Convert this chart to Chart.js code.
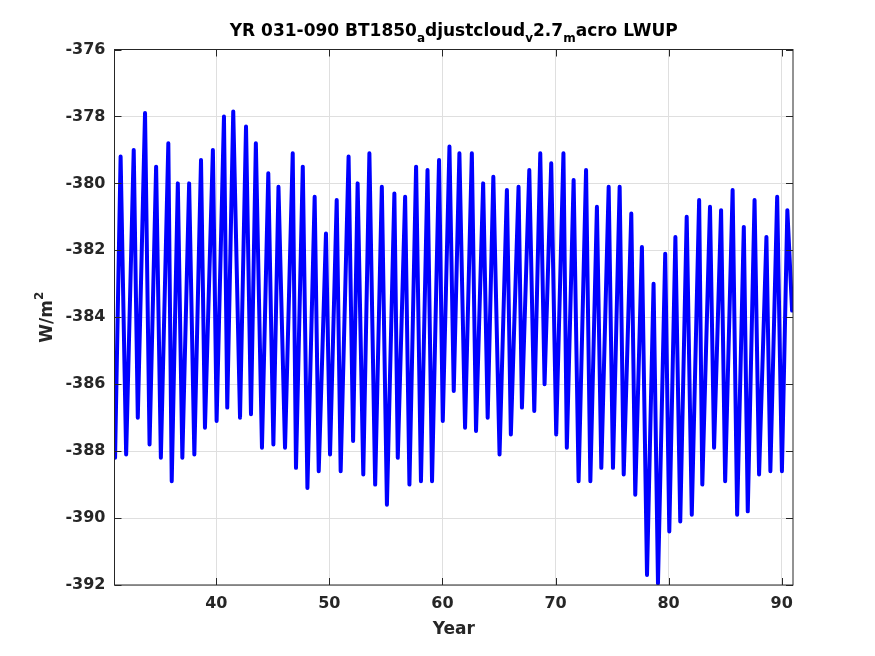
<!DOCTYPE html>
<html>
<head>
<meta charset="utf-8">
<script src="https://cdn.jsdelivr.net/npm/chart.js@4/dist/chart.umd.min.js"></script>
<style>
  html, body { margin: 0; padding: 0; background: #fff; }
  canvas { display: block; }
</style>
</head>
<body>
<canvas id="lwup" width="875" height="656"></canvas>
<script>
// turning points of the LWUP series (year, W/m2)
const years = [
  31.0, 31.05, 31.54, 32.03, 32.7, 33.06, 33.7, 34.1, 34.68, 35.1,
  35.76, 36.06, 36.6, 37.0, 37.6, 38.06, 38.65, 39.0, 39.7, 40.03,
  40.68, 40.97, 41.5, 42.1, 42.63, 43.07, 43.5, 44.04, 44.6, 45.05,
  45.5, 46.08, 46.76, 47.05, 47.65, 48.06, 48.7, 49.06, 49.7, 50.06,
  50.65, 51.0, 51.7, 52.1, 52.5, 53.0, 53.54, 54.05, 54.64, 55.09,
  55.75, 56.05, 56.7, 57.08, 57.67, 58.1, 58.68, 59.08, 59.7, 60.03,
  60.62, 61.0, 61.5, 62.0, 62.6, 62.97, 63.6, 64.0, 64.5, 65.05,
  65.7, 66.05, 66.73, 67.03, 67.68, 68.12, 68.65, 69.03, 69.62, 70.06,
  70.7, 71.0, 71.6, 72.04, 72.7, 73.08, 73.66, 74.05, 74.7, 75.08,
  75.67, 76.03, 76.7, 77.05, 77.64, 78.09, 78.67, 79.06, 79.7, 80.06,
  80.6, 81.03, 81.6, 82.05, 82.7, 82.98, 83.66, 84.02, 84.64, 85.0,
  85.66, 86.06, 86.65, 87.0, 87.6, 88.0, 88.65, 89.0, 89.6, 90.02,
  90.5, 90.92
];
const lwup = [
  -385.7, -388.2, -379.2, -388.1, -379.0, -387.0, -377.9, -387.8, -379.5, -388.2,
  -378.8, -388.9, -380.0, -388.2, -380.0, -388.1, -379.3, -387.3, -379.0, -387.1,
  -378.0, -386.7, -377.85, -387.0, -378.3, -386.9, -378.8, -387.9, -379.7, -387.8,
  -380.1, -387.9, -379.1, -388.5, -379.5, -389.1, -380.4, -388.6, -381.5, -388.1,
  -380.5, -388.6, -379.2, -387.7, -380.0, -388.7, -379.1, -389.0, -380.1, -389.6,
  -380.3, -388.2, -380.4, -389.0, -379.5, -388.9, -379.6, -388.9, -379.3, -387.1,
  -378.9, -386.2, -379.1, -387.3, -379.1, -387.4, -380.0, -387.0, -379.8, -388.1,
  -380.2, -387.5, -380.1, -386.7, -379.6, -386.8, -379.1, -386.0, -379.4, -387.5,
  -379.1, -387.9, -379.9, -388.9, -379.6, -388.9, -380.7, -388.5, -380.1, -388.5,
  -380.1, -388.7, -380.9, -389.3, -381.9, -391.7, -383.0, -391.95, -382.1, -390.4,
  -381.6, -390.1, -381.0, -389.9, -380.5, -389.0, -380.7, -387.9, -380.8, -388.9,
  -380.2, -389.9, -381.3, -389.8, -380.5, -388.7, -381.6, -388.6, -380.4, -388.6,
  -380.8, -383.8
];
const xTicks = [40, 50, 60, 70, 80, 90];
const yTicks = [-392, -390, -388, -386, -384, -382, -380, -378, -376];

const FONT = "'DejaVu Sans', sans-serif";
const INK = "#262626";

// MATLAB style box with inward ticks + title and axis labels
const matlabAxes = {
  id: "matlabAxes",
  afterDraw(chart) {
    const c = chart.ctx, a = chart.chartArea;
    const xs = chart.scales.x, ys = chart.scales.y;
    c.save();
    c.strokeStyle = INK;
    c.lineWidth = 1;
    c.strokeRect(a.left, a.top, a.right - a.left, a.bottom - a.top);
    c.beginPath();
    xTicks.forEach(v => {
      const px = Math.round(xs.getPixelForValue(v)) + 0.5;
      c.moveTo(px, a.bottom); c.lineTo(px, a.bottom - 7);
      c.moveTo(px, a.top); c.lineTo(px, a.top + 7);
    });
    yTicks.forEach(v => {
      const py = Math.round(ys.getPixelForValue(v)) + 0.5;
      c.moveTo(a.left, py); c.lineTo(a.left + 7, py);
      c.moveTo(a.right, py); c.lineTo(a.right - 7, py);
    });
    c.stroke();

    // title with TeX-style subscripts
    c.fillStyle = "#000";
    const parts = [
      ["YR 031-090 BT1850", 0], ["a", 1], ["djustcloud", 0], ["v", 1],
      ["2.7", 0], ["m", 1], ["acro LWUP", 0]
    ];
    const big = "bold 17px " + FONT, small = "bold 12px " + FONT;
    let total = 0;
    parts.forEach(p => { c.font = p[1] ? small : big; total += c.measureText(p[0]).width; });
    let x = (a.left + a.right) / 2 - total / 2;
    c.textBaseline = "alphabetic";
    c.textAlign = "left";
    parts.forEach(p => {
      c.font = p[1] ? small : big;
      c.fillText(p[0], x, p[1] ? 42 : 36);
      x += c.measureText(p[0]).width;
    });

    // x label
    c.fillStyle = INK;
    c.font = "bold 17px " + FONT;
    c.textAlign = "center";
    c.fillText("Year", (a.left + a.right) / 2, 634);

    // y label W/m^2
    c.translate(52, (a.top + a.bottom) / 2);
    c.rotate(-Math.PI / 2);
    c.font = "bold 17px " + FONT;
    const w1 = c.measureText("W/m").width;
    c.font = "bold 12px " + FONT;
    const w2 = c.measureText("2").width;
    c.textAlign = "left";
    c.font = "bold 17px " + FONT;
    c.fillText("W/m", -(w1 + w2) / 2, 0);
    c.font = "bold 12px " + FONT;
    c.fillText("2", -(w1 + w2) / 2 + w1, -9);
    c.restore();
  }
};

const points = years.map((yr, i) => ({ x: yr, y: lwup[i] }));

new Chart(document.getElementById("lwup").getContext("2d"), {
  type: "line",
  data: {
    datasets: [{
      data: points,
      borderColor: "#0000ff",
      borderWidth: 4,
      borderJoinStyle: "round",
      borderCapStyle: "round",
      pointRadius: 0,
      tension: 0,
      fill: false
    }]
  },
  options: {
    responsive: false,
    animation: false,
    layout: { padding: { top: 49.5, right: 82, bottom: 0, left: 0 } },
    plugins: { legend: { display: false }, tooltip: { enabled: false } },
    scales: {
      x: {
        type: "linear",
        min: 31, max: 91,
        afterBuildTicks: s => { s.ticks = xTicks.map(v => ({ value: v })); },
        afterFit: s => { s.height = 71; },
        grid: { color: "#dfdfdf", drawTicks: false },
        border: { display: false },
        ticks: { color: INK, padding: 9, maxRotation: 0,
                 font: { family: FONT, weight: "bold", size: 16 } }
      },
      y: {
        min: -392, max: -376,
        afterBuildTicks: s => { s.ticks = yTicks.map(v => ({ value: v })); },
        afterFit: s => { s.width = 114.5; },
        grid: { color: "#dfdfdf", drawTicks: false },
        border: { display: false },
        ticks: { color: INK, padding: 9,
                 font: { family: FONT, weight: "bold", size: 16 } }
      }
    }
  },
  plugins: [matlabAxes]
});
</script>
</body>
</html>
